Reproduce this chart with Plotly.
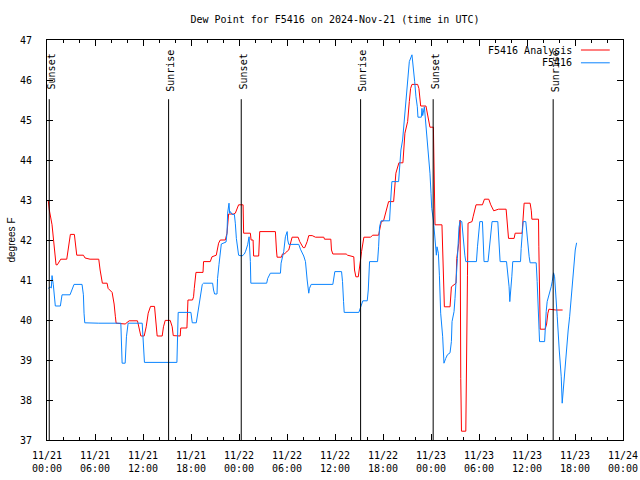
import plotly.graph_objects as go

# hours since 2024-11-21 00:00 UTC
analysis_hours = [0.16,0.29,0.63,0.96,1.13,1.29,1.72,2.47,2.63,2.92,3.42,3.72,4.55,4.76,5.38,6.47,6.64,6.92,7.51,7.64,
 8.14,8.39,8.55,8.64,9.77,10.27,11.31,11.52,11.73,12.15,12.40,12.65,12.94,13.44,13.65,13.77,14.40,14.56,14.78,15.40,
 15.65,15.78,16.65,16.72,17.49,17.62,18.19,18.32,18.41,18.62,19.50,19.57,20.41,20.62,21.16,21.45,21.66,22.29,22.50,22.70,
 23.33,23.54,23.95,24.51,24.58,25.42,25.51,25.76,25.83,26.46,26.59,28.55,28.68,28.76,29.30,29.43,29.68,29.80,30.22,30.43,
 30.64,31.39,31.59,32.02,32.22,32.52,32.72,33.15,33.56,34.60,34.69,35.48,35.56,35.73,37.40,37.57,38.35,38.44,38.61,38.91,
 39.03,39.19,39.32,39.48,39.61,40.45,40.70,41.45,41.61,41.79,42.07,42.32,42.51,42.70,43.33,43.51,43.61,43.99,44.49,44.74,
 45.08,45.29,45.45,45.62,46.33,46.49,46.62,46.71,47.37,47.62,47.87,48.30,48.36,48.42,48.50,49.37,49.46,49.62,49.67,50.38,
 50.55,51.13,51.22,51.47,51.64,51.72,51.81,52.35,52.39,52.56,52.63,53.13,53.26,53.47,53.63,54.43,54.68,55.22,55.47,55.84,
 56.44,57.39,57.51,57.69,58.39,58.52,59.39,59.54,59.64,60.39,60.54,60.61,61.44,61.48,61.57,61.65,62.27,62.45,62.61,62.74,
 63.61,64.45]
analysis_dewpt = [42.98,42.75,42.38,41.75,41.38,41.38,41.52,41.52,41.78,42.14,42.14,41.62,41.62,41.55,41.52,41.52,41.25,40.92,40.92,40.79,
 40.69,40.40,40.08,39.92,39.90,39.98,39.98,39.75,39.60,39.60,39.83,40.17,40.34,40.34,39.83,39.60,39.60,39.83,39.99,39.99,
 39.83,39.61,39.60,39.80,39.80,40.50,40.50,40.58,40.79,41.19,41.19,41.46,41.46,41.58,41.62,41.92,42.00,42.00,42.17,42.65,
 42.65,42.67,42.88,42.88,42.17,42.17,42.00,42.00,41.60,41.60,42.21,42.21,41.75,41.57,41.57,41.65,41.65,41.68,41.75,41.89,
 42.07,42.07,41.96,41.81,41.81,41.96,42.11,42.11,42.07,42.07,42.02,42.02,41.75,41.65,41.65,41.62,41.58,41.25,41.08,41.08,
 41.35,41.50,41.71,41.96,42.07,42.07,42.12,42.12,42.33,42.46,42.48,42.67,42.75,42.96,42.96,43.38,43.67,43.93,43.93,44.67,
 44.96,45.46,45.79,45.89,45.89,45.79,45.46,45.35,45.35,45.08,44.82,44.82,43.83,42.75,42.38,42.38,41.83,40.85,40.33,40.33,
 40.83,40.92,41.54,41.92,42.50,38.54,37.22,37.22,38.55,41.12,42.42,42.46,42.58,42.75,42.88,42.88,43.02,43.02,42.88,42.73,
 42.77,42.77,42.46,42.04,42.04,42.17,42.17,42.85,42.92,42.92,42.73,42.52,42.52,41.83,40.50,39.77,39.77,39.90,40.17,40.27,
 40.25,40.25]

obs_hours = [0.16,0.38,0.54,0.63,0.79,0.88,1.04,1.67,1.88,2.88,3.13,3.38,4.38,4.55,4.63,4.72,6.47,9.23,9.39,9.77,
 9.93,10.14,11.90,11.98,12.18,16.24,16.40,17.99,18.16,18.66,18.82,18.95,19.25,19.41,19.57,20.70,20.82,20.95,21.25,21.32,
 21.50,21.66,21.79,22.38,22.50,22.58,22.75,22.83,22.92,23.13,23.42,23.54,23.67,23.95,24.38,24.67,24.83,25.08,25.26,25.42,
 25.48,27.46,27.59,27.92,29.18,29.26,29.59,29.80,30.02,30.09,30.22,31.47,31.68,32.09,32.31,32.52,32.65,32.72,32.81,33.02,
 35.73,35.85,35.98,36.82,36.94,37.07,37.15,38.98,39.16,39.32,39.48,40.03,40.16,40.32,41.32,41.45,41.57,41.76,42.82,42.95,
 43.11,43.95,44.08,44.24,44.45,44.62,44.79,44.95,45.12,45.29,45.62,45.79,45.96,46.12,46.29,46.37,46.79,46.87,46.96,47.17,
 47.33,47.50,47.67,47.87,48.00,48.09,48.30,48.46,48.59,48.67,48.75,48.92,49.05,49.21,49.46,49.62,49.84,50.05,50.38,50.55,
 50.63,50.88,51.00,51.13,51.30,51.50,51.64,51.85,51.97,52.10,52.23,52.35,53.68,53.81,54.01,54.10,54.43,54.47,54.56,54.63,
 55.13,55.26,55.47,55.63,56.35,56.47,56.64,57.44,57.51,57.69,57.76,57.85,57.97,58.10,58.22,59.19,59.27,59.39,59.52,59.85,
 59.98,60.11,60.27,60.39,61.15,61.27,61.40,61.52,61.57,62.20,62.27,62.40,62.52,62.70,62.86,63.02,63.15,63.32,63.45,63.61,
 63.78,64.03,64.28,64.40,64.58,64.70,64.83,64.99,65.15,65.33,65.53,65.70,65.87,66.03,66.20]
obs_dewpt = [40.79,40.83,40.80,41.11,40.88,40.63,40.35,40.35,40.63,40.63,40.75,40.89,40.89,40.63,40.17,39.93,39.92,39.92,38.92,38.92,
 39.58,39.92,39.92,39.71,38.94,38.94,40.19,40.19,39.93,39.93,40.13,40.33,40.67,40.89,40.92,40.92,40.75,40.65,40.65,41.04,
 41.39,41.71,41.90,41.95,42.17,42.67,42.92,42.67,42.71,42.64,42.64,42.42,42.04,41.62,41.60,41.65,41.72,41.88,42.08,41.46,
 40.92,40.92,41.04,41.17,41.17,41.42,41.71,42.08,42.21,42.00,41.89,41.89,41.77,41.60,41.46,41.00,40.75,40.67,40.79,40.89,
 40.89,41.08,41.21,41.21,40.96,40.46,40.19,40.19,40.29,40.38,40.48,40.48,40.75,41.46,41.46,41.83,42.33,42.48,42.48,42.96,
 43.46,43.46,43.75,44.25,44.50,44.92,45.33,45.75,46.17,46.46,46.63,46.33,45.96,45.58,45.33,45.07,45.07,45.29,45.11,45.33,
 44.96,44.42,44.13,43.67,43.17,42.79,42.50,42.17,41.88,41.62,41.83,41.67,41.12,40.17,39.58,38.92,39.04,39.13,39.18,39.46,
 39.96,40.21,40.54,41.12,41.54,42.32,42.48,42.46,42.12,41.83,41.62,41.46,41.46,41.83,42.25,42.46,42.46,42.17,41.75,41.46,
 41.46,41.75,42.21,42.46,42.46,42.00,41.46,41.46,41.33,41.08,40.83,40.46,40.71,41.08,41.46,41.46,41.79,42.17,42.46,42.46,
 42.12,41.83,41.58,41.43,41.43,40.96,40.46,39.96,39.46,39.46,39.92,40.21,40.46,40.58,40.71,40.83,40.96,41.18,41.08,40.67,
 40.08,39.25,38.58,37.92,38.42,38.67,39.04,39.42,39.75,40.08,40.63,41.04,41.33,41.75,41.93]

sun_hours = [0.28, 15.20, 24.28, 39.20, 48.27, 63.27]
sun_labels = ["Sunset", "Sunrise", "Sunset", "Sunrise", "Sunset", "Sunrise"]

x_tick_vals = [0, 6, 12, 18, 24, 30, 36, 42, 48, 54, 60, 66, 72]
x_tick_text = ["11/21<br>00:00", "11/21<br>06:00", "11/21<br>12:00", "11/21<br>18:00",
               "11/22<br>00:00", "11/22<br>06:00", "11/22<br>12:00", "11/22<br>18:00",
               "11/23<br>00:00", "11/23<br>06:00", "11/23<br>12:00", "11/23<br>18:00",
               "11/24<br>00:00"]
y_tick_vals = [37, 38, 39, 40, 41, 42, 43, 44, 45, 46, 47]

MONO = "DejaVu Sans Mono"
RED = "#ff0000"
BLUE = "#0a84ff"

W, H = 640, 480

fig = go.Figure()
fig.add_trace(go.Scatter(x=analysis_hours, y=analysis_dewpt, mode="lines",
                         line=dict(color=RED, width=1), name="F5416 Analysis", showlegend=False))
fig.add_trace(go.Scatter(x=obs_hours, y=obs_dewpt, mode="lines",
                         line=dict(color=BLUE, width=1), name="F5416", showlegend=False))

for h, lab in zip(sun_hours, sun_labels):
    fig.add_shape(type="line", x0=h, x1=h, y0=37, y1=45.52, xref="x", yref="y",
                  line=dict(color="black", width=1))
    fig.add_annotation(x=h, y=46.22, xref="x", yref="y", text=lab, textangle=-90,
                       showarrow=False, xanchor="center", yanchor="middle", xshift=2,
                       font=dict(family=MONO, size=10, color="black"))

# legend (gnuplot style: text then sample line)
for txt, col, py in [("F5416 Analysis", RED, 0.975), ("F5416", BLUE, 0.943)]:
    fig.add_annotation(x=0.915, y=py, xref="paper", yref="paper", text=txt, showarrow=False,
                       xanchor="right", yanchor="middle", font=dict(family=MONO, size=10, color="black"))
    fig.add_shape(type="line", x0=0.927, x1=0.977, y0=py, y1=py, xref="paper", yref="paper",
                  line=dict(color=col, width=1))

fig.update_layout(
    width=W, height=H,
    margin=dict(l=47, r=17, t=40, b=40, autoexpand=False),
    paper_bgcolor="white", plot_bgcolor="white",
    title=dict(text="Dew Point for F5416 on 2024-Nov-21 (time in UTC)", x=0.5, xref="paper",
               y=1 - 19 / H, yanchor="middle", xanchor="center", automargin=False,
               font=dict(family=MONO, size=10, color="black")),
    showlegend=False,
)
fig.update_xaxes(range=[0, 72], tickmode="array", tickvals=x_tick_vals, ticktext=x_tick_text,
                 ticks="inside", ticklen=6, tickcolor="black", showgrid=False, zeroline=False,
                 showline=True, linecolor="black", linewidth=1, mirror="ticks", automargin=False,
                 minor=dict(dtick=2, tick0=0, ticks="inside", ticklen=3, tickcolor="black", showgrid=False),
                 tickfont=dict(family=MONO, size=10, color="black"), ticklabelstandoff=6,
                 ticklabeloverflow="allow")
fig.update_yaxes(range=[37, 47], tickmode="array", tickvals=y_tick_vals,
                 ticks="inside", ticklen=6, tickcolor="black", showgrid=False, zeroline=False,
                 showline=True, linecolor="black", linewidth=1, mirror="ticks", automargin=False,
                 tickfont=dict(family=MONO, size=10, color="black"), ticklabelstandoff=12,
                 title=dict(text="degrees F", font=dict(family="Liberation Sans", size=10, color="black"),
                            standoff=2))

fig.write_html("out.html", config={"displayModeBar": False},
               post_script="document.body.style.margin='0';document.body.style.overflow='hidden';")
